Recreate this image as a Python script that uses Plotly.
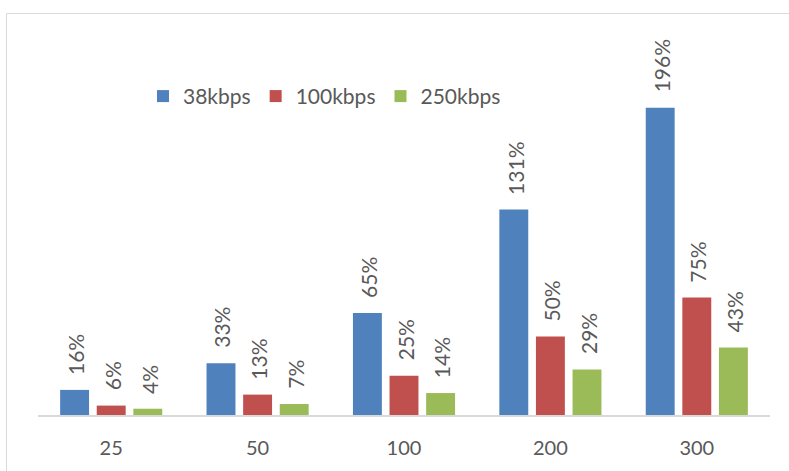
import plotly.graph_objects as go

# Overhead (%) by payload size, for three link rates
categories = ["25", "50", "100", "200", "300"]
series_names = ["38kbps", "100kbps", "250kbps"]
series_values = [
    [16, 33, 65, 131, 196],
    [6, 13, 25, 50, 75],
    [4, 7, 14, 29, 43],
]
series_colors = ["#4F81BD", "#C0504D", "#9BBB59"]

FONT = "Lato, 'Open Sans', sans-serif"
TEXT_COLOR = "#595959"

W, H = 789, 471
M_L, M_R, M_T, M_B = 38, 19, 23, 53
BARGAP = 0.25
GROUPGAP = 0.21

plot_w = W - M_L - M_R
plot_h = H - M_T - M_B
slot = plot_w / len(categories) * (1 - BARGAP) / len(series_names)

fig = go.Figure()
for name, vals, color in zip(series_names, series_values, series_colors):
    fig.add_trace(go.Bar(
        name=name,
        x=categories,
        y=vals,
        marker=dict(color=color, line=dict(width=0)),
        hoverinfo="skip",
    ))

# Value labels, rotated, sitting above each bar
# (category axis positions are given as category indices)
annotations = []
n = len(series_names)
for i, vals in enumerate(series_values):
    shift = (i - (n - 1) / 2) * slot
    for j, v in enumerate(vals):
        annotations.append(dict(
            x=j, y=v, xref="x", yref="y",
            text=f"{v}%",
            textangle=-90,
            showarrow=False,
            xanchor="center", yanchor="bottom",
            xshift=shift + 1, yshift=13,
            font=dict(family=FONT, size=21, color=TEXT_COLOR),
        ))

# Light frame around the chart
px_x = lambda p: (p - M_L) / plot_w
px_y = lambda p: (H - M_B - p) / plot_h
shapes = [dict(
    type="rect", xref="paper", yref="paper",
    x0=px_x(6.5), x1=px_x(820), y0=px_y(500), y1=px_y(13.5),
    line=dict(color="#D9D9D9", width=1), fillcolor="rgba(0,0,0,0)",
    layer="below",
)]

fig.update_layout(
    width=W, height=H,
    margin=dict(l=M_L, r=M_R, t=M_T, b=M_B, pad=0),
    paper_bgcolor="white", plot_bgcolor="white",
    barmode="group", bargap=BARGAP, bargroupgap=GROUPGAP,
    font=dict(family=FONT, size=20, color=TEXT_COLOR),
    showlegend=True,
    legend=dict(
        orientation="h",
        x=px_x(143), xanchor="left",
        y=px_y(97), yanchor="middle",
        font=dict(family=FONT, size=21, color=TEXT_COLOR),
        bgcolor="rgba(0,0,0,0)", itemclick=False, itemdoubleclick=False,
    ),
    xaxis=dict(
        type="category",
        range=[-0.5, len(categories) - 0.5],
        showline=True, linecolor="#D9D9D9", linewidth=1.5,
        ticks="", showgrid=False, zeroline=False,
        tickfont=dict(family=FONT, size=20, color=TEXT_COLOR),
        ticklabelstandoff=14,
        fixedrange=True,
    ),
    yaxis=dict(
        range=[0, 250], visible=False, showgrid=False, zeroline=False,
        fixedrange=True,
    ),
    annotations=annotations,
    shapes=shapes,
)

fig.write_html("out.html", config={"displayModeBar": False})
